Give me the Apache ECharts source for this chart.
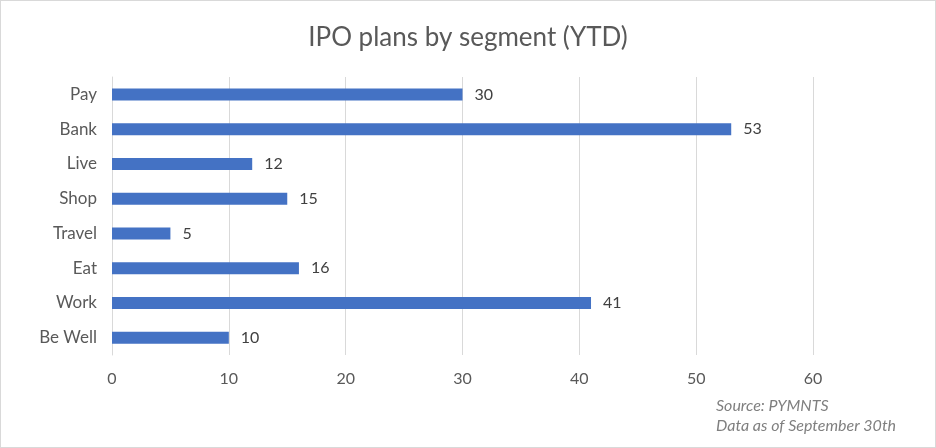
<!DOCTYPE html>
<html><head><meta charset="utf-8">
<script src="https://cdn.jsdelivr.net/npm/echarts@6/dist/echarts.min.js"></script>
<style>
html,body{margin:0;padding:0;background:#fff;}
#c{position:absolute;left:0;top:0;width:934px;height:446px;border:1px solid #d9d9d9;}
</style></head>
<body><div id="c"></div>
<script>
const categories = ["Pay","Bank","Live","Shop","Travel","Eat","Work","Be Well"];
const values = [30,53,12,15,5,16,41,10];
const xTicks = [0,10,20,30,40,50,60];

const chart = echarts.init(document.getElementById('c'));
const font = 'Lato, "Open Sans", sans-serif';
chart.setOption({
  animation:false,
  backgroundColor:'#fff',
  title:{text:'IPO plans by segment (YTD)',left:'center',top:19,
    textStyle:{fontFamily:font,fontSize:26,fontWeight:'normal',color:'#595959'}},
  grid:{left:111,right:122,top:76,bottom:92,containLabel:false},
  xAxis:{type:'value',min:xTicks[0],max:xTicks[xTicks.length-1],interval:10,
    axisLine:{show:false},axisTick:{show:false},
    splitLine:{lineStyle:{color:'#d9d9d9',width:1}},
    axisLabel:{margin:16,color:'#595959',fontFamily:font,fontSize:16}},
  yAxis:{type:'category',data:categories,inverse:true,
    axisLine:{show:true,lineStyle:{color:'#d9d9d9'}},axisTick:{show:false},
    axisLabel:{margin:15,color:'#595959',fontFamily:font,fontSize:17}},
  series:[{type:'bar',data:values,barWidth:12,
    itemStyle:{color:'#4472c4'},
    label:{show:true,position:'right',distance:12,color:'#404040',fontFamily:font,fontSize:16}}],
  graphic:[
    {type:'text',left:715,top:395,style:{text:'Source: PYMNTS\nData as of September 30th',
      fontFamily:font,fontSize:16,fontStyle:'italic',fill:'#7f7f7f',lineHeight:20}}
  ]
});
</script></body></html>
